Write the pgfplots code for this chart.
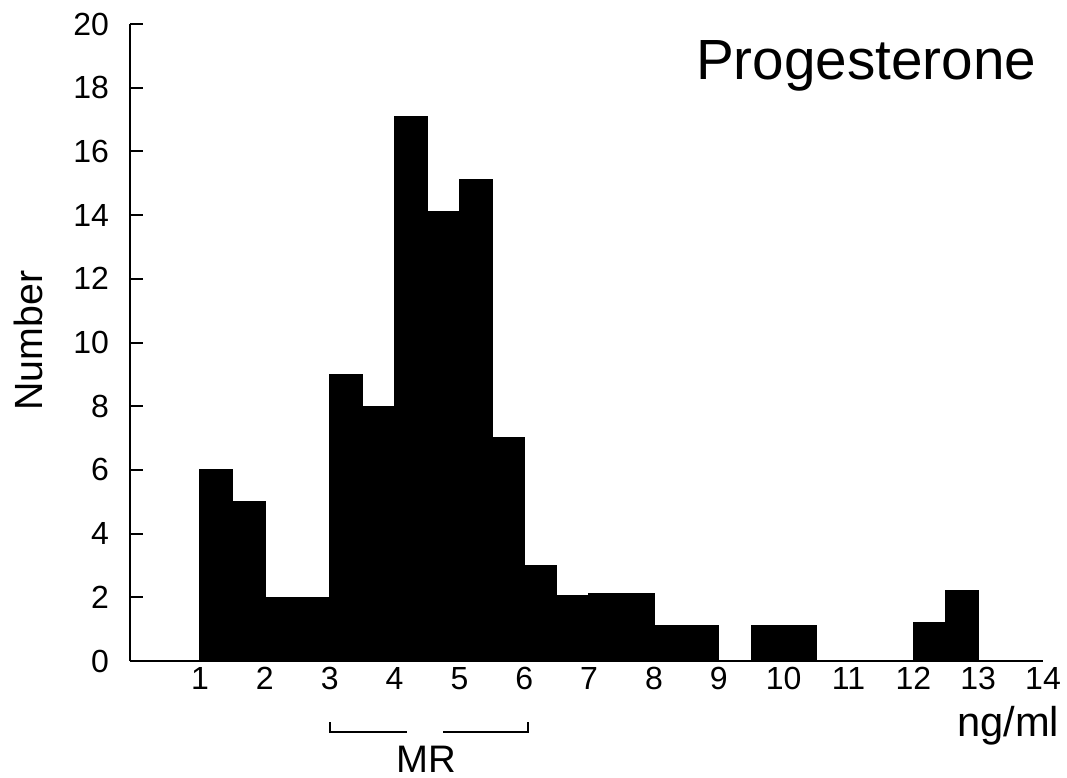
\documentclass[border=0pt]{standalone}
\usepackage{fontspec}
\setmainfont{Liberation Sans}
\usepackage{pgfplots}
\pgfplotsset{compat=1.18}

\begin{document}
\begin{tikzpicture}
  \useasboundingbox (-39pt,-34.8pt) rectangle (281.1pt,198.3pt);
  \begin{axis}[
    at={(0,0)}, anchor=south west,
    scale only axis, width=273.9pt, height=191.1pt,
    xmin=-0.08, xmax=14, ymin=0, ymax=20,
    axis lines=left,
    axis line style={-, line width=0.6pt},
    xtick={1,2,...,14}, ytick={0,2,...,20},
    x tick style={draw=none},
    y tick style={line width=0.6pt, black},
    major tick length=3.9pt, tick align=inside,
    tick label style={font=\fontsize{9.6}{11}\selectfont},
    /pgf/number format/assume math mode=true,
    yticklabel style={xshift=-2.8pt},
    xticklabel style={yshift=-0.2pt, inner sep=1.5pt},
    clip=false,
  ]
    % counts per 0.5 ng/ml class
    \addplot[ybar interval, fill=black, draw=black, line width=0.4pt]
      coordinates {
        (1,6)(1.5,5)(2,2)(2.5,2)(3,9)(3.5,8)(4,17.1)(4.5,14.1)
        (5,15.1)(5.5,7)(6,3)(6.5,2.05)(7,2.1)(7.5,2.1)(8,1.1)(8.5,1.1)
        (9,0)(9.5,1.1)(10,1.1)(10.5,0)(11,0)(11.5,0)(12,1.2)(12.5,2.2)(13,2.2)
      };

    \node[inner sep=0pt, anchor=base west, font=\fontsize{17}{19}\selectfont] at (axis cs:8.64,18.27) {Progesterone};
    \node[inner sep=0pt, rotate=90, font=\fontsize{11.8}{13}\selectfont] at (axis cs:-1.65,10.06) {Number};
    \node[inner sep=0pt, anchor=base east, font=\fontsize{12.5}{14}\selectfont] at (axis cs:14.26,-2.36) {ng/ml};
    \node[inner sep=0pt, anchor=base, font=\fontsize{11.5}{13}\selectfont] at (axis cs:4.49,-3.49) {MR};
    \draw[line width=0.6pt] (axis cs:3,-1.92) -- (axis cs:3,-2.23) -- (axis cs:4.19,-2.23);
    \draw[line width=0.6pt] (axis cs:4.75,-2.23) -- (axis cs:6.05,-2.23) -- (axis cs:6.05,-1.92);
  \end{axis}
\end{tikzpicture}
\end{document}
